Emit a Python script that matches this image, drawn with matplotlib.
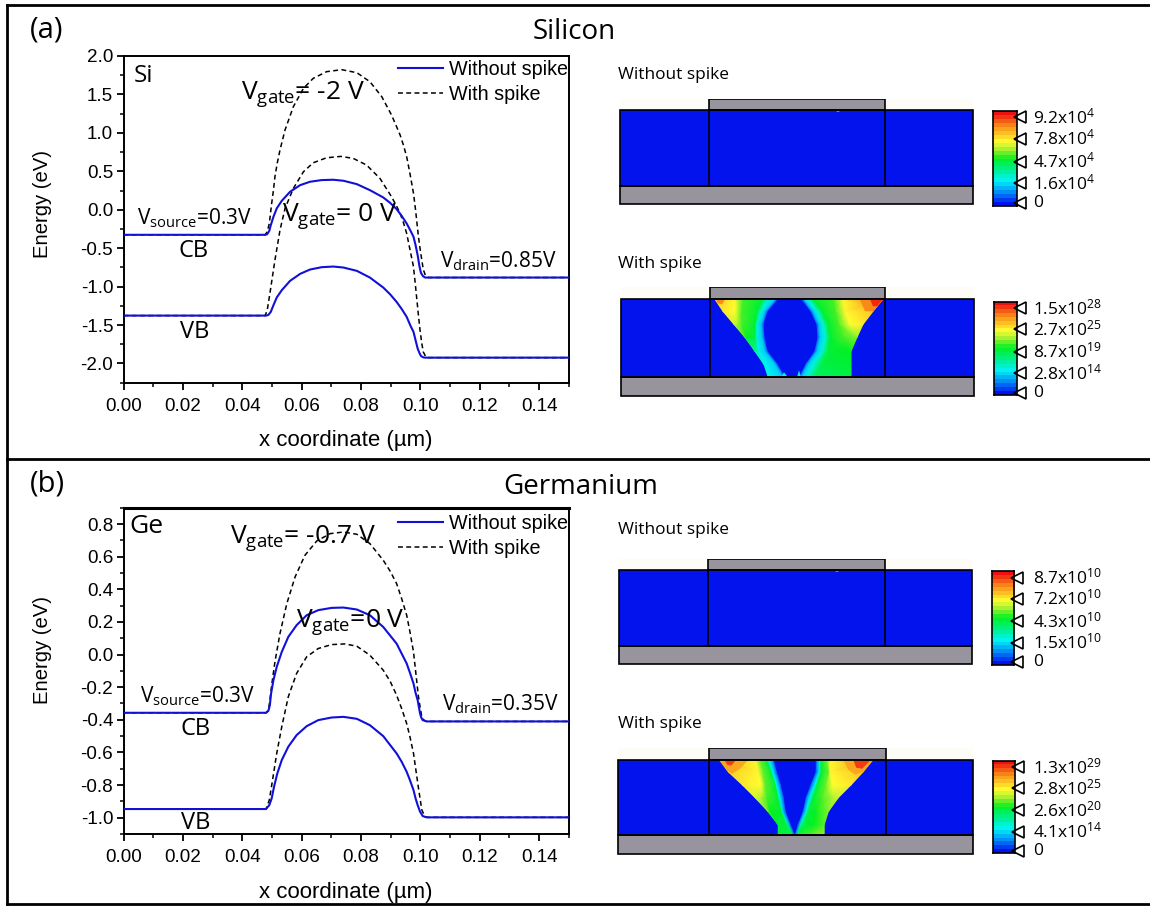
import matplotlib
matplotlib.use('Agg')
import matplotlib.pyplot as plt
import numpy as np
from matplotlib.colors import LinearSegmentedColormap
from matplotlib.patches import Rectangle
from matplotlib.ticker import MultipleLocator, FormatStrFormatter

W, H = 1150, 906

# --- band diagrams ---
si_cb_x = [0, .0477, .0484, .0491, .0496, .0505, .0516, .0533, .0561, .0595, .0628, .0668, .0707, .0741, .0786,
           .0830, .0875, .0898, .0920, .0937, .0954, .0967, .0977, .0984, .0991, .0997, .1002, .1009, .1016, .15]
si_cb_e = [-.326, -.326, -.318, -.274, -.200, -.092, .017, .116, .234, .320, .364, .386, .390, .377, .333,
           .255, .160, .090, .008, -.079, -.179, -.274, -.352, -.461, -.591, -.734, -.821, -.864, -.882, -.882]
si_vb_x = [0, .0480, .0488, .0496, .0505, .0516, .0533, .0561, .0595, .0628, .0668, .0707, .0741, .0786,
           .0830, .0875, .0898, .0920, .0937, .0954, .0967, .0977, .0984, .0991, .0997, .1002, .1009, .1016, .15]
si_vb_e = [-1.377, -1.377, -1.368, -1.329, -1.242, -1.142, -1.047, -.925, -.834, -.778, -.747, -.739, -.752, -.795,
           -.882, -1.012, -1.099, -1.199, -1.290, -1.394, -1.511, -1.589, -1.698, -1.806, -1.863, -1.902, -1.919,
           -1.924, -1.924]
si_up_x = [0, .0477, .0484, .0491, .0499, .0505, .0510, .0518, .0527, .0544, .0572, .0606, .0639, .0684, .0735, .0786,
           .0830, .0870, .0903, .0920, .0932, .0943, .0954, .0965, .0977, .0984, .0993, .0999, .1005, .1010, .1018,
           .1027, .15]
si_up_e = [-.326, -.326, -.287, -.179, .082, .255, .429, .611, .776, 1.037, 1.340, 1.579, 1.709, 1.796, 1.822, 1.783,
           1.666, 1.471, 1.232, 1.080, .971, .841, .689, .472, .212, -.005, -.331, -.504, -.656, -.778, -.864,
           -.882, -.882]
si_lo_x = [0, .0477, .0484, .0493, .0510, .0527, .0544, .0572, .0606, .0639, .0684, .0732, .0774, .0819,
           .0864, .0903, .0920, .0932, .0943, .0954, .0965, .0977, .0984, .0993, .0999, .1005, .1010, .1018, .1027, .15]
si_lo_e = [-1.377, -1.377, -1.307, -1.090, -.656, -.266, .017, .277, .494, .611, .676, .694, .668, .581,
           .407, .169, .047, -.048, -.166, -.309, -.517, -.743, -1.003, -1.351, -1.568, -1.741, -1.850, -1.910,
           -1.924, -1.924]

ge_cb_x = [0, .0480, .0488, .0493, .0497, .0505, .0516, .0533, .0555, .0583, .0617, .0656, .0701, .0741, .0786,
           .0830, .0875, .0920, .0937, .0954, .0965, .0977, .0984, .0991, .0999, .1003, .1008, .1021, .15]
ge_cb_e = [-.357, -.357, -.345, -.310, -.239, -.157, -.076, .016, .108, .180, .241, .272, .286, .288, .276,
           .241, .169, .067, .006, -.055, -.112, -.178, -.235, -.280, -.361, -.386, -.402, -.410, -.410]
ge_vb_x = [0, .0480, .0491, .0499, .0507, .0518, .0533, .0555, .0583, .0617, .0656, .0701, .0741, .0786,
           .0830, .0875, .0920, .0937, .0954, .0965, .0977, .0984, .0991, .0999, .1008, .1021, .15]
ge_vb_e = [-.947, -.947, -.923, -.882, -.810, -.729, -.647, -.565, -.494, -.439, -.402, -.386, -.382, -.394,
           -.433, -.500, -.606, -.657, -.719, -.770, -.831, -.882, -.923, -.963, -.990, -.998, -.998]
ge_up_x = [0, .0480, .0488, .0493, .0499, .0510, .0527, .0550, .0578, .0611, .0651, .0696, .0741, .0786,
           .0830, .0875, .0898, .0920, .0937, .0954, .0965, .0977, .0985, .0993, .0999, .1005, .1012, .1021, .15]
ge_up_e = [-.357, -.357, -.341, -.280, -.188, -.045, .129, .312, .476, .608, .696, .741, .751, .737,
           .680, .578, .512, .435, .343, .241, .139, .016, -.116, -.249, -.320, -.382, -.402, -.410, -.410]
ge_lo_x = [0, .0480, .0491, .0502, .0516, .0533, .0555, .0583, .0617, .0656, .0701, .0746, .0786,
           .0830, .0875, .0898, .0920, .0937, .0954, .0965, .0977, .0985, .0993, .0999, .1005, .1016, .1027, .15]
ge_lo_e = [-.947, -.947, -.892, -.769, -.606, -.443, -.259, -.116, -.014, .037, .061, .065, .051,
           -.004, -.096, -.163, -.249, -.331, -.423, -.504, -.606, -.708, -.810, -.882, -.953, -.994, -.998, -.998]

# --- field maps: edge position per depth row, outer to inner, and colour level at each edge ---
rows_b = [0, 12, 25, 38, 52, 65, 77]
b_left = [[94, 102, 113, 124, 134, 143, 147],
          [114, 114, 116, 124, 134, 143, 147],
          [122, 121, 121, 126, 134, 143, 147],
          [141, 136, 134, 134, 136, 143, 147],
          [147, 140, 136, 136, 138, 145, 149],
          [154, 144, 140, 141, 144, 154, 161]]
b_left_lev = [[.78, .72, .66, .52, .35, .28, .25],
              [.70, .69, .62, .52, .35, .28, .25],
              [.54, .54, .54, .50, .35, .28, .25],
              [.48, .48, .48, .46, .33, .28, .25],
              [.28, .28, .28, .28, .26, .25, .25],
              [.20, .20, .20, .20, .20, .20, .20]]
b_right = [[262, 252, 242, 236, 230, 230, 230],
           [222, 224, 229, 236, 230, 230, 230],
           [212, 214, 217, 222, 230, 230, 230],
           [192, 201, 207, 209, 207, 201, 194],
           [187, 196, 202, 204, 201, 192, 186],
           [183, 192, 198, 199, 196, 187, 181]]
b_right_lev = [[.92, .78, .72, .60, .50, .48, .46],
               [.70, .70, .69, .58, .50, .48, .46],
               [.54, .54, .54, .54, .50, .48, .46],
               [.48, .48, .48, .48, .47, .46, .42],
               [.28, .28, .28, .28, .28, .27, .27],
               [.20, .20, .20, .20, .20, .20, .20]]
rows_d = [0, 12, 25, 38, 52, 65, 75]
d_left = [[101, 110, 124, 137, 150, 160, 160],
          [137, 140, 143, 143, 150, 160, 160],
          [142, 145, 147, 149, 152, 160, 160],
          [148, 153, 157, 160, 164, 169, 174],
          [150, 154, 158, 161, 164, 169, 174],
          [153, 156, 160, 163, 165, 170, 174]]
d_left_lev = [[.86, .76, .72, .66, .55, .48, .46],
              [.70, .70, .69, .62, .55, .48, .46],
              [.56, .56, .56, .54, .50, .48, .46],
              [.48, .48, .48, .48, .48, .46, .46],
              [.28, .28, .28, .28, .30, .40, .46],
              [.20, .20, .20, .20, .20, .30, .46]]
d_right = [[255, 245, 233, 220, 210, 206, 206],
           [212, 212, 214, 215, 210, 206, 206],
           [208, 210, 207, 203, 197, 195, 192],
           [203, 203, 199, 195, 190, 185, 179],
           [201, 201, 197, 192, 188, 183, 179],
           [200, 200, 195, 190, 187, 182, 179]]
d_right_lev = [[.90, .78, .72, .64, .58, .55, .60],
               [.70, .70, .69, .62, .58, .55, .60],
               [.56, .56, .56, .54, .50, .50, .55],
               [.48, .48, .48, .48, .46, .46, .46],
               [.28, .28, .28, .28, .30, .35, .46],
               [.20, .20, .20, .20, .22, .30, .46]]

hot_b = [(.86, [(239, 0), (262, 0), (252, 12), (244, 12)]),
         (.97, [(249, 0), (262, 0), (256, 7), (252, 7)]),
         (.86, [(95, 0), (104, 0), (101, 5), (97, 4)])]
hot_d = [(.82, [(102, 0), (130, 0), (122, 9), (114, 14), (109, 11)]),
         (.95, [(106, 0), (118, 0), (113, 6), (109, 5)]),
         (.82, [(225, 0), (255, 0), (245, 12), (237, 15), (230, 10)]),
         (.95, [(235, 0), (253, 0), (244, 9), (238, 8)])]
dots_b = [(.25, [(160, 78), (167, 78), (163, 73)]), (.25, [(176, 78), (180, 78), (178, 71)])]
dot_top = [(.3, [(214, 0), (222, 0), (218, 2)])]

cbar_ticks = [.025, .235, .465, .705, .93]
labels_a = ['0', '1.6x10^{4}', '4.7x10^{4}', '7.8x10^{4}', '9.2x10^{4}']
labels_b = ['0', '2.8x10^{14}', '8.7x10^{19}', '2.7x10^{25}', '1.5x10^{28}']
labels_c = ['0', '1.5x10^{10}', '4.3x10^{10}', '7.2x10^{10}', '8.7x10^{10}']
labels_d = ['0', '4.1x10^{14}', '2.6x10^{20}', '2.8x10^{25}', '1.3x10^{29}']

SANS = 'Liberation Sans'
HUMAN = 'Open Sans'
BLUE = '#1010d8'
FIELD = '#0313ee'
GRAY = '#98949e'

plt.rcParams['axes.unicode_minus'] = False
plt.rcParams['font.family'] = SANS

cmap = LinearSegmentedColormap.from_list('tcad', [(0, '#0010f0'), (.12, '#0088f8'), (.25, '#00f4f4'),
                                                   (.37, '#00f090'), (.5, '#00f020'), (.6, '#a0f030'),
                                                   (.69, '#ffff30'), (.86, '#f88c18'), (1, '#f01010')])

fig = plt.figure(figsize=(W / 100, H / 100), dpi=100)


def add_ax(l, t, r, b):
    return fig.add_axes([l / W, 1 - b / H, (r - l) / W, (b - t) / H])


def put(x, y, s, size=15, family=HUMAN, **kw):
    fig.text(x / W, 1 - y / H, s, fontsize=size, family=family, **kw)


def vlab(name, rest):
    return 'V$_{\\mathregular{%s}}$%s' % (name, rest)


# outer frame
for y in [5, 459, 904]:
    fig.add_artist(plt.Line2D([7 / W, 1], [1 - y / H, 1 - y / H], color='k', lw=2))
fig.add_artist(plt.Line2D([7 / W, 7 / W], [1 - 5 / H, 1 - 904 / H], color='k', lw=2))


def band_plot(rect, ylim, ymaj, ymin, curves, leg_top):
    ax = add_ax(*rect)
    cb, vb, up, lo = curves
    ax.plot(*up, color='k', lw=1.1, ls=(0, (3.2, 2.2)), zorder=2)
    ax.plot(*lo, color='k', lw=1.1, ls=(0, (3.2, 2.2)), zorder=2)
    l1, = ax.plot(*cb, color=BLUE, lw=1.5, zorder=3)
    ax.plot(*vb, color=BLUE, lw=1.5, zorder=3)
    ax.set_xlim(0, .15)
    ax.set_ylim(*ylim)
    ax.xaxis.set_major_locator(MultipleLocator(.02))
    ax.xaxis.set_minor_locator(MultipleLocator(.01))
    ax.yaxis.set_major_locator(MultipleLocator(ymaj))
    ax.yaxis.set_minor_locator(MultipleLocator(ymin))
    ax.xaxis.set_major_formatter(FormatStrFormatter('%.2f'))
    ax.yaxis.set_major_formatter(FormatStrFormatter('%.1f'))
    ax.tick_params(which='major', length=5, width=1.3, labelsize=13.6)
    ax.tick_params(axis='x', which='major', pad=6)
    ax.tick_params(axis='y', which='major', pad=2.5)
    ax.tick_params(which='minor', length=3, width=1.1)
    for s in ax.spines.values():
        s.set_linewidth(1.4)
    ax.set_xlabel('x coordinate (\u00b5m)', fontsize=16, labelpad=11)
    dash = plt.Line2D([], [], color='k', lw=1.1, ls=(0, (3.2, 2.2)))
    ax.legend([l1, dash], ['Without spike', 'With spike'], frameon=False, fontsize=14.2,
              loc='upper right', bbox_to_anchor=(1.003, leg_top), borderpad=.12, borderaxespad=0,
              handlelength=2.3, handletextpad=.27, labelspacing=.28, alignment='left')
    return ax


band_plot((123.6, 56, 568.7, 382.7), (-2.25, 2.0), .5, .25,
          [(si_cb_x, si_cb_e), (si_vb_x, si_vb_e), (si_up_x, si_up_e), (si_lo_x, si_lo_e)], .995)
ax_ge = band_plot((123.6, 507.7, 568.7, 834), (-1.1, .9), .2, .1,
                  [(ge_cb_x, ge_cb_e), (ge_vb_x, ge_vb_e), (ge_up_x, ge_up_e), (ge_lo_x, ge_lo_e)], .987)
ax_ge.spines['top'].set_linewidth(2.2)


def arm(ax, rows, edges, levels, rim):
    xs = np.array(edges + [[v + rim for v in edges[-1]]], dtype=float).T
    cs = np.array(levels + [[.08] * len(rows)]).T
    ys = np.tile(np.array(rows, dtype=float).reshape(-1, 1), (1, xs.shape[1]))
    ax.pcolormesh(xs, ys, cs, shading='gouraud', cmap=cmap, vmin=0, vmax=1, rasterized=True)


def device(rect, gate, si_h, gate_h, left=None, right=None, rows=None, hot=(), marks=()):
    l, t, r, b = rect
    ax = add_ax(l, t, r, b)
    wid = r - l
    gray_h = b - t - si_h - gate_h
    ax.add_patch(Rectangle((0, -gate_h), wid, gate_h, fc='#fdfcf6', ec='none'))
    ax.add_patch(Rectangle((0, 0), wid, si_h, fc=FIELD, ec='none'))
    if left is not None:
        arm(ax, rows, left[0], left[1], 2.0)
        arm(ax, rows, right[0], right[1], -2.0)
    for lev, pts in list(hot) + list(marks):
        ax.fill(*zip(*pts), color=cmap(lev), lw=0)
    ax.add_patch(Rectangle((gate[0], -gate_h), gate[1] - gate[0], gate_h, fc=GRAY, ec='k', lw=1.2))
    ax.add_patch(Rectangle((0, si_h), wid, gray_h, fc=GRAY, ec='k', lw=1.2, clip_on=False))
    ax.add_patch(Rectangle((0, 0), wid, si_h, fc='none', ec='k', lw=1.2, clip_on=False))
    for g in gate:
        ax.plot([g, g], [0, si_h], color='k', lw=1.2)
    ax.set_xlim(0, wid)
    ax.set_ylim(si_h + gray_h, -gate_h)
    ax.axis('off')


device((620, 99.3, 973, 204), (88.8, 265), 75.7, 10.7, marks=dot_top)
device((621, 287.3, 974, 396), (88.5, 264), 78, 12, (b_left, b_left_lev), (b_right, b_right_lev), rows_b, hot_b, dots_b)
device((619, 559.3, 972, 664.3), (89, 265.6), 75.5, 10.7, marks=dot_top)
device((618.2, 748.3, 973, 854), (90.6, 267.4), 75.6, 11.4, (d_left, d_left_lev), (d_right, d_right_lev), rows_d, hot_d)


def colorbar(rect, labels):
    ax = add_ax(*rect)
    grad = np.linspace(0, 1, 24).reshape(-1, 1)
    ax.imshow(grad, cmap=cmap, aspect='auto', origin='lower', extent=(0, 1, 0, 1), interpolation='nearest')
    ax.set_xticks([])
    ax.set_yticks([])
    for s in ax.spines.values():
        s.set_linewidth(1.2)
    ax.plot([1.13] * 5, cbar_ticks, ls='none', marker='<', ms=8.5, mfc='white', mec='k', mew=1.2, clip_on=False)
    ax.set_xlim(0, 1)
    ax.set_ylim(0, 1)
    for f, lab in zip(cbar_ticks, labels):
        ax.annotate('$\\mathregular{%s}$' % lab, (1, f), xytext=(1033 - rect[2], 0),
                    textcoords='offset pixels', va='center', ha='left', fontsize=12.5,
                    family=HUMAN, annotation_clip=False)


colorbar((993.3, 110.7, 1016.5, 205.7), labels_a)
colorbar((994.4, 301.7, 1017, 395.3), labels_b)
colorbar((992.3, 571.3, 1014.4, 664.7), labels_c)
colorbar((993, 760.7, 1014.7, 853.3), labels_d)

# free labels
put(43, 204, 'Energy (eV)', 14.6, SANS, rotation=90, ha='center', va='center')
put(43, 650, 'Energy (eV)', 14.6, SANS, rotation=90, ha='center', va='center')
put(30, 37, '(a)', 21)
put(30, 491, '(b)', 21)
put(533, 39, 'Silicon', 20)
put(503, 494, 'Germanium', 20)
put(618, 79, 'Without spike', 12.4)
put(618, 268, 'With spike', 12.4)
put(618, 534, 'Without spike', 12.4)
put(618, 728, 'With spike', 12.4)

put(134, 82, 'Si', 17.5)
put(241, 100, vlab('gate', '= -2 V'), 19)
put(282, 222, vlab('gate', '= 0 V'), 19)
put(137, 224, vlab('source', '=0.3V'), 15)
put(178, 257, 'CB', 17)
put(440, 267, vlab('drain', '=0.85V'), 15)
put(180, 338, 'VB', 17)

put(129, 533, 'Ge', 19)
put(230, 543, vlab('gate', '= -0.7 V'), 19)
put(296, 627, vlab('gate', '=0 V'), 19)
put(140, 702, vlab('source', '=0.3V'), 15)
put(180, 735, 'CB', 17)
put(442, 710, vlab('drain', '=0.35V'), 15)
put(181, 829, 'VB', 17)

fig.savefig('out.png', dpi=100)
